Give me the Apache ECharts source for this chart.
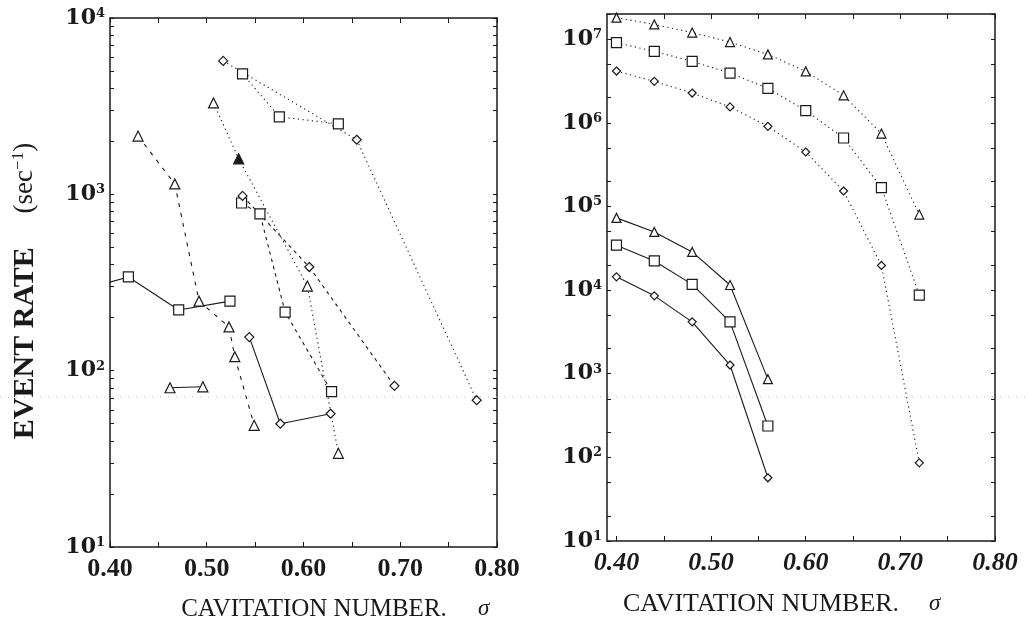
<!DOCTYPE html>
<html>
<head>
<meta charset="utf-8">
<title>Event rate vs cavitation number</title>
<script src="https://cdn.jsdelivr.net/npm/echarts@6/dist/echarts.min.js"></script>
<style>
  html, body { margin: 0; padding: 0; background: #fff; }
  #chart { width: 1028px; height: 622px; }
</style>
</head>
<body>
<div id="chart"></div>
<script>
// left panel, points as [sigma, events per sec]
const leftTriDotted = [[0.507, 3300], [0.533, 1590], [0.604, 302], [0.636, 34]]
const leftSqDotted = [[0.537, 4820], [0.575, 2750], [0.636, 2510]]
const leftDiaDotted = [[0.517, 5710], [0.655, 2040], [0.779, 68]]
const leftTriDashed = [[0.429, 2140], [0.467, 1145], [0.492, 248], [0.523, 177], [0.529, 120], [0.549, 49]]
const leftSqDashed = [[0.536, 893], [0.555, 774], [0.581, 215], [0.629, 76]]
const leftDiaDashed = [[0.537, 980], [0.606, 387], [0.694, 82]]
const leftSqSolid = [[0.38, 296], [0.419, 340], [0.471, 221], [0.524, 248]]
const leftTriSolid = [[0.462, 80], [0.496, 81]]
const leftDiaSolid = [[0.544, 155], [0.576, 50], [0.628, 57]]

// right panel
const rightSigmaDotted = [0.40, 0.44, 0.48, 0.52, 0.56, 0.60, 0.64, 0.68, 0.72]
const rightTriDotted = [1.81e7, 1.50e7, 1.20e7, 9.23e6, 6.58e6, 4.12e6, 2.13e6, 7.43e5, 8.0e4]
const rightSqDotted = [9.08e6, 7.15e6, 5.43e6, 3.93e6, 2.58e6, 1.40e6, 6.58e5, 1.68e5, 8690]
const rightDiaDotted = [4.16e6, 3.13e6, 2.27e6, 1.55e6, 9.08e5, 4.48e5, 1.53e5, 1.97e4, 86]
const rightSigmaSolid = [0.40, 0.44, 0.48, 0.52, 0.56]
const rightTriSolid = [7.3e4, 4.96e4, 2.86e4, 1.15e4, 861]
const rightSqSolid = [3.44e4, 2.23e4, 1.17e4, 4170, 237]
const rightDiaSolid = [1.44e4, 8530, 4170, 1270, 57]

// ticks and labels
const sigmaTicks = [0.40, 0.45, 0.50, 0.55, 0.60, 0.65, 0.70, 0.75, 0.80]
const sigmaLabels = [0.40, 0.50, 0.60, 0.70, 0.80]
const leftDecades = [10, 100, 1000, 10000]
const rightDecades = [10, 100, 1000, 10000, 100000, 1000000, 10000000]
const leftMinorSteps = [2, 3, 4, 5, 6, 7, 8, 9]
const rightMinorSteps = [2, 5]

const ink = '#1a1a1a'
const serif = 'Liberation Serif'
const wideSerif = 'DejaVu Serif'

function minorTicks(decades, steps, max) {
  const out = []
  decades.forEach(d => steps.forEach(s => { if (d * s <= max) out.push(d * s) }))
  return out
}

const supLabel = v => '{b|10}{s|' + Math.round(Math.log10(v)) + '}'
const labelRich = {
  b: { fontFamily: wideSerif, fontWeight: 'bold', fontSize: 22, color: ink },
  s: { fontFamily: wideSerif, fontWeight: 'bold', fontSize: 13, color: ink, verticalAlign: 'top' }
}

function xAxes(grid, min, pos, labels, italic) {
  return {
    type: 'value', gridIndex: grid, min: min, max: 0.8, position: pos,
    axisLine: { show: true, lineStyle: { color: ink, width: 1.5 } },
    axisTick: { show: true, inside: true, length: 5, customValues: sigmaTicks, lineStyle: { color: ink } },
    axisLabel: {
      show: labels, customValues: sigmaLabels, margin: 9,
      formatter: v => v.toFixed(2),
      fontFamily: serif, fontWeight: 'bold', fontSize: 26, color: ink,
      fontStyle: italic ? 'italic' : 'normal'
    },
    splitLine: { show: false }
  }
}

function yAxis(grid, max, pos, labels, decades, minor) {
  return {
    type: 'log', logBase: 10, gridIndex: grid, min: 10, max: max, position: pos,
    axisLine: { show: true, lineStyle: { color: ink, width: 1.5 } },
    axisTick: { show: true, inside: true, length: 4, customValues: decades.concat(minor), lineStyle: { color: ink } },
    axisLabel: { show: labels, customValues: decades, margin: 5, formatter: supLabel, rich: labelRich },
    splitLine: { show: false }
  }
}

function line(data, xi, yi, symbol, size, dash) {
  return {
    type: 'line', xAxisIndex: xi, yAxisIndex: yi, data: data,
    symbol: symbol, symbolSize: size, showAllSymbol: true,
    lineStyle: { color: ink, width: 1.1, type: dash },
    itemStyle: { color: '#fff', borderColor: ink, borderWidth: 1.2 },
    animation: false, z: 3,
    emphasis: { disabled: true }
  }
}

const zip = (xs, ys) => xs.map((x, i) => [x, ys[i]])

const dotted = [1.2, 3.5]
const dashed = [3.5, 4]
const longDash = [4, 6]

// one triangle in the left dotted run is printed solid
const leftTriDottedItems = leftTriDotted.map((p, i) =>
  i === 1 ? { value: p, itemStyle: { color: ink } } : p)

const titleFont = size => ({ fontFamily: serif, fontSize: size, fill: ink })

const chart = echarts.init(document.getElementById('chart'), null, { renderer: 'canvas' })
chart.setOption({
  backgroundColor: '#fff',
  animation: false,
  grid: [
    { left: 110, top: 18, width: 387, height: 529 },
    { left: 607, top: 14, width: 388, height: 527 }
  ],
  xAxis: [
    xAxes(0, 0.4, 'bottom', true, false),
    xAxes(0, 0.4, 'top', false, false),
    xAxes(1, 0.39, 'bottom', true, true),
    xAxes(1, 0.39, 'top', false, true)
  ],
  yAxis: [
    yAxis(0, 10000, 'left', true, leftDecades, minorTicks(leftDecades, leftMinorSteps, 10000)),
    yAxis(0, 10000, 'right', false, leftDecades, minorTicks(leftDecades, leftMinorSteps, 10000)),
    yAxis(1, 2e7, 'left', true, rightDecades, minorTicks(rightDecades, rightMinorSteps, 2e7)),
    yAxis(1, 2e7, 'right', false, rightDecades, minorTicks(rightDecades, rightMinorSteps, 2e7))
  ],
  series: [
    line(leftTriDottedItems, 0, 0, 'triangle', 10, dotted),
    line(leftSqDotted, 0, 0, 'rect', 10, dotted),
    line(leftDiaDotted, 0, 0, 'diamond', 9, dotted),
    line(leftTriDashed, 0, 0, 'triangle', 10, longDash),
    line(leftSqDashed, 0, 0, 'rect', 10, dashed),
    line(leftDiaDashed, 0, 0, 'diamond', 9, dashed),
    line(leftSqSolid, 0, 0, 'rect', 10, 'solid'),
    line(leftTriSolid, 0, 0, 'triangle', 10, 'solid'),
    line(leftDiaSolid, 0, 0, 'diamond', 9, 'solid'),
    line(zip(rightSigmaDotted, rightTriDotted), 2, 2, 'triangle', 9, dotted),
    line(zip(rightSigmaDotted, rightSqDotted), 2, 2, 'rect', 10, dotted),
    line(zip(rightSigmaDotted, rightDiaDotted), 2, 2, 'diamond', 8, dotted),
    line(zip(rightSigmaSolid, rightTriSolid), 2, 2, 'triangle', 9, 'solid'),
    line(zip(rightSigmaSolid, rightSqSolid), 2, 2, 'rect', 10, 'solid'),
    line(zip(rightSigmaSolid, rightDiaSolid), 2, 2, 'diamond', 8, 'solid')
  ],
  graphic: [
    // faint scan line running across the page
    { type: 'line', shape: { x1: 0, y1: 397, x2: 1028, y2: 397 }, z: 1,
      style: { stroke: '#b8b8b8', lineWidth: 1, lineDash: [1, 7] } },
    { type: 'text', x: 314, y: 609,
      style: Object.assign({ text: 'CAVITATION NUMBER.', textAlign: 'center', textVerticalAlign: 'middle' }, titleFont(25)) },
    { type: 'text', x: 478, y: 609,
      style: { text: 'σ', font: 'italic 23px ' + serif, fill: ink, textVerticalAlign: 'middle' } },
    { type: 'text', x: 761, y: 604,
      style: Object.assign({ text: 'CAVITATION NUMBER.', textAlign: 'center', textVerticalAlign: 'middle' }, titleFont(26)) },
    { type: 'text', x: 929, y: 604,
      style: { text: 'σ', font: 'italic 23px ' + serif, fill: ink, textVerticalAlign: 'middle' } },
    {
      type: 'text', x: 25, y: 291, rotation: Math.PI / 2,
      style: {
        text: '{b|EVENT RATE}{r|     (sec}{u|−1}{r|)}',
        textAlign: 'center', textVerticalAlign: 'middle',
        rich: {
          b: { fontFamily: serif, fontWeight: 'bold', fontSize: 30, fill: ink },
          r: { fontFamily: serif, fontSize: 27, fill: ink },
          u: { fontFamily: serif, fontSize: 17, fill: ink, verticalAlign: 'top' }
        }
      }
    }
  ]
})
</script>
</body>
</html>
